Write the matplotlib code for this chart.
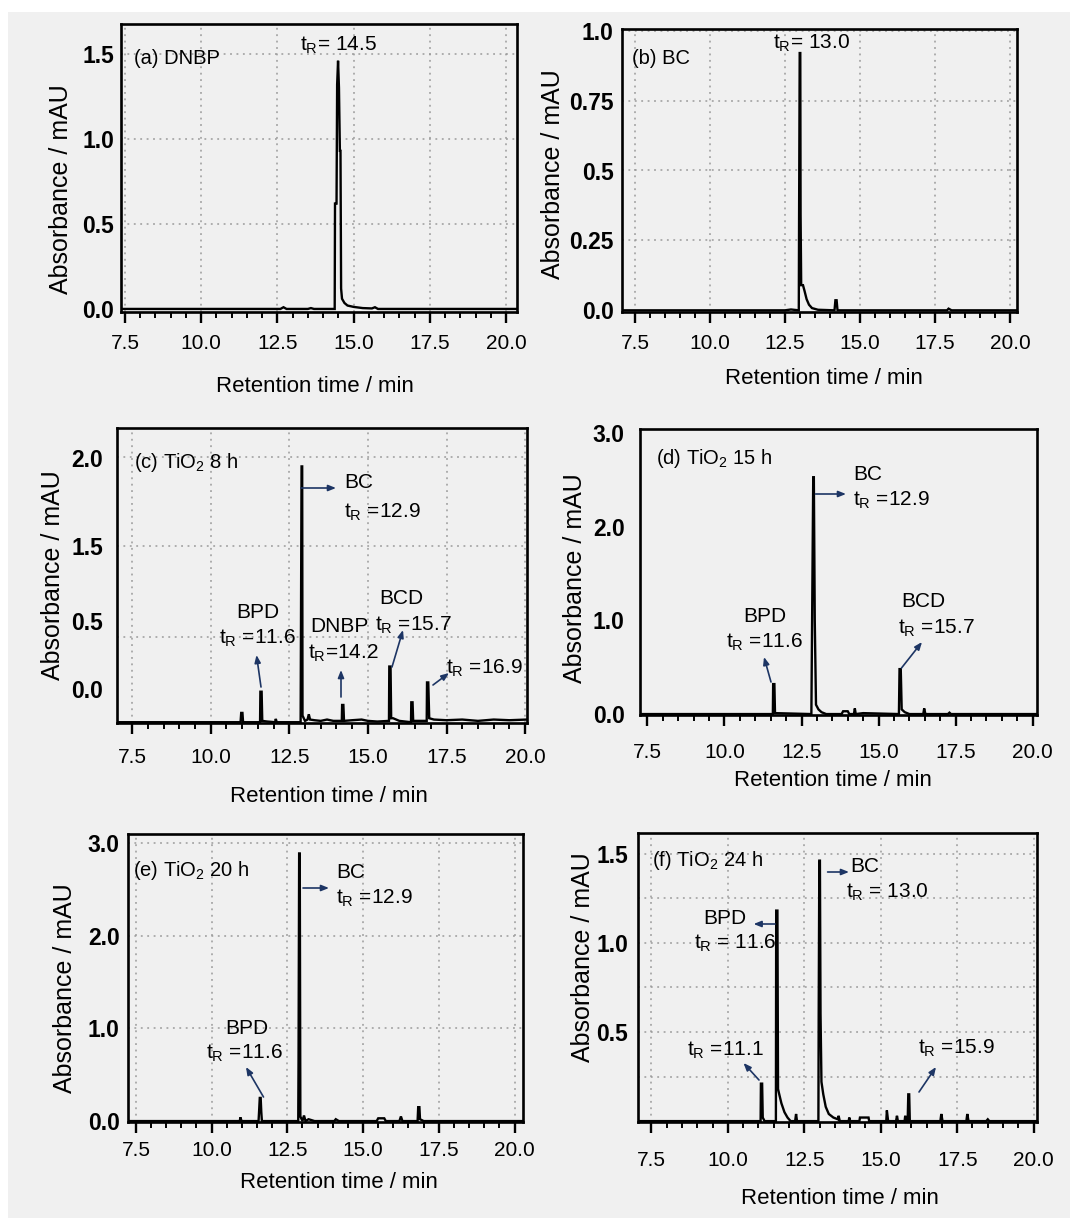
import matplotlib
matplotlib.use("Agg")
import matplotlib.pyplot as plt
from matplotlib.patches import Rectangle
from matplotlib.ticker import MultipleLocator

# ---------------------------------------------------------------- data
# (a) DNBP standard
t_dnbp = [7.37, 9.0, 11.0, 12.6, 12.7, 12.8, 13.5, 13.6, 13.7, 14.38, 14.39, 14.44, 14.46,
          14.49, 14.52, 14.55, 14.57, 14.59, 14.62, 14.70, 14.80, 15.0, 15.3, 15.6, 15.7,
          15.8, 18.0, 20.36]
a_dnbp = [0.0, 0.0, 0.0, 0.0, 0.01, 0.0, 0.0, 0.005, 0.0, 0.0, 0.62, 0.62, 1.32,
          1.46, 1.30, 0.93, 0.93, 0.12, 0.06, 0.035, 0.02, 0.012, 0.005, 0.003, 0.01,
          0.0, 0.0, 0.0]

# (b) BC standard
t_bc = [7.07, 9.5, 12.0, 12.5, 12.7, 12.96, 12.97, 12.99, 13.01, 13.02, 13.04, 13.10,
        13.15, 13.22, 13.30, 13.40, 13.6, 14.15, 14.18, 14.22, 14.25, 17.9, 17.95, 18.05,
        20.23]
a_bc = [0.0, 0.0, 0.0, 0.0, 0.003, 0.0, 0.34, 0.92, 0.92, 0.34, 0.09, 0.09,
        0.07, 0.04, 0.02, 0.008, 0.002, 0.0, 0.036, 0.036, 0.0, 0.0, 0.006, 0.0,
        0.0]

# (c) TiO2, 8 h
t_8h = [7.02, 9.0, 10.95, 10.97, 11.01, 11.03, 11.57, 11.58, 11.62, 11.64, 11.8, 12.05,
        12.07, 12.1, 12.86, 12.87, 12.89, 12.91, 12.92, 13.0, 13.08, 13.12, 13.16, 13.3,
        13.5, 13.7, 13.9, 14.17, 14.18, 14.22, 14.24, 14.5, 14.8, 15.0, 15.3, 15.67,
        15.68, 15.72, 15.74, 15.8, 15.9, 16.0, 16.37, 16.38, 16.42, 16.44, 16.87, 16.88,
        16.92, 16.95, 17.1, 17.5, 18.0, 18.5, 19.0, 19.5, 20.06]
a_8h = [0.0, 0.0, 0.0, 0.07, 0.07, 0.0, 0.0, 0.23, 0.23, 0.01, 0.005, 0.0,
        0.025, 0.0, 0.0, 0.65, 1.93, 1.93, 0.05, 0.01, 0.02, 0.06, 0.02, 0.015,
        0.01, 0.02, 0.01, 0.01, 0.13, 0.13, 0.01, 0.015, 0.02, 0.01, 0.005, 0.01,
        0.42, 0.42, 0.03, 0.03, 0.02, 0.01, 0.0, 0.15, 0.15, 0.01, 0.01, 0.30,
        0.30, 0.03, 0.02, 0.015, 0.02, 0.01, 0.02, 0.015, 0.02]

# (d) TiO2, 15 h
t_15h = [7.26, 11.0, 11.57, 11.58, 11.62, 11.64, 12.82, 12.88, 12.90, 12.93, 12.97, 13.05,
         13.15, 13.3, 13.8, 13.85, 14.0, 14.05, 14.2, 14.23, 14.26, 14.5, 15.66, 15.68,
         15.72, 15.75, 15.85, 16.0, 16.45, 16.48, 16.52, 17.25, 17.3, 17.35, 20.14]
a_15h = [0.0, 0.0, 0.0, 0.32, 0.32, 0.01, 0.0, 2.53, 2.53, 1.0, 0.1, 0.05,
         0.02, 0.0, 0.0, 0.03, 0.03, 0.0, 0.0, 0.06, 0.0, 0.01, 0.0, 0.48,
         0.48, 0.05, 0.02, 0.0, 0.0, 0.06, 0.0, 0.0, 0.015, 0.0, 0.0]

# (e) TiO2, 20 h
t_20h = [7.24, 10.93, 10.95, 10.99, 11.55, 11.57, 11.59, 11.62, 11.64, 11.66, 12.86, 12.87,
         12.89, 12.91, 12.93, 13.0, 13.05, 13.1, 13.2, 13.4, 14.05, 14.1, 14.2, 15.45,
         15.5, 15.7, 15.75, 16.2, 16.25, 16.3, 16.8, 16.82, 16.86, 16.88, 17.0, 20.28]
a_20h = [0.0, 0.0, 0.04, 0.0, 0.0, 0.12, 0.25, 0.25, 0.1, 0.0, 0.0, 0.65,
         2.89, 2.89, 0.05, 0.0, 0.06, 0.0, 0.02, 0.0, 0.0, 0.02, 0.0, 0.0,
         0.03, 0.03, 0.0, 0.0, 0.05, 0.0, 0.0, 0.15, 0.15, 0.02, 0.0, 0.0]

# (f) TiO2, 24 h
t_24h = [7.06, 10.5, 11.07, 11.08, 11.12, 11.14, 11.2, 11.57, 11.58, 11.62, 11.64, 11.68,
         11.75, 11.85, 11.95, 12.05, 12.2, 12.23, 12.26, 12.96, 12.97, 12.99, 13.01, 13.03,
         13.06, 13.12, 13.2, 13.3, 13.45, 13.6, 13.62, 13.66, 13.95, 13.97, 14.0, 14.3,
         14.32, 14.6, 14.62, 15.18, 15.2, 15.24, 15.5, 15.53, 15.56, 15.78, 15.8, 15.83,
         15.88, 15.9, 15.93, 15.95, 16.95, 16.98, 17.02, 17.8, 17.83, 17.87, 18.45, 18.5,
         18.55, 20.11]
a_24h = [0.0, 0.0, 0.0, 0.21, 0.21, 0.02, 0.0, 0.0, 1.18, 1.18, 0.18, 0.15,
         0.10, 0.05, 0.02, 0.0, 0.0, 0.04, 0.0, 0.0, 0.6, 1.46, 1.46, 0.6,
         0.22, 0.15, 0.08, 0.04, 0.02, 0.01, 0.03, 0.0, 0.0, 0.02, 0.0, 0.0,
         0.02, 0.02, 0.0, 0.0, 0.06, 0.0, 0.0, 0.03, 0.0, 0.0, 0.03, 0.0,
         0.0, 0.15, 0.15, 0.0, 0.0, 0.04, 0.0, 0.0, 0.04, 0.0, 0.0, 0.01,
         0.0, 0.0]

x_ticks = [7.5, 10.0, 12.5, 15.0, 17.5, 20.0]
x_tick_labels = ["7.5", "10.0", "12.5", "15.0", "17.5", "20.0"]

# ---------------------------------------------------------------- style
W, H = 1070, 1218
REG = ["Liberation Sans", "DejaVu Sans"]
plt.rcParams["font.family"] = REG
plt.rcParams["mathtext.fontset"] = "custom"
plt.rcParams["mathtext.rm"] = "Liberation Sans"

BG = "#f0f0f0"
ARROW_C = "#1d3564"
GRID_KW = dict(color="#9a9a9a", lw=1.1, ls=(0, (1.2, 3.0)), zorder=0)

fig = plt.figure(figsize=(W / 100, H / 100), dpi=100)
fig.patch.set_facecolor("white")
fig.add_artist(Rectangle((8 / W, 0), 1 - 8 / W, 1 - 12 / H, transform=fig.transFigure,
                         facecolor=BG, edgecolor="none", zorder=-10))


def P(x, y):
    """pixel position (from top-left) -> figure fraction"""
    return (x / W, 1 - y / H)


def TR(val):
    return r"$\mathregular{t_R}$" + val


panels = [
    dict(frame=(121, 24, 517, 312), t=t_dnbp, a=a_dnbp, xlim=(7.37, 20.36), ylim=(-0.018, 1.676),
         yticks=[0.0, 0.5, 1.0, 1.5], ylabels=["0.0", "0.5", "1.0", "1.5"],
         hgrid=[0.5, 1.0, 1.5], vgrid=True, xpad=7.5, ypad=5,
         ylab=(61, 189), xlab=(315, 387),
         title=("(a) DNBP", 134, 58),
         notes=[(TR("= 14.5"), 300, 45, "left")], arrows=[]),
    dict(frame=(622, 29, 1017, 312), t=t_bc, a=a_bc, xlim=(7.07, 20.23), ylim=(-0.006, 1.006),
         yticks=[0.0, 0.25, 0.5, 0.75, 1.0], ylabels=["0.0", "0.25", "0.5", "0.75", "1.0"],
         hgrid=[0.25, 0.5, 0.75, 1.0], vgrid=True, xpad=7.5, ypad=6,
         ylab=(553, 174), xlab=(824, 378),
         title=("(b) BC", 632, 58),
         notes=[(TR("= 13.0"), 773, 43, "left")], arrows=[]),
    dict(frame=(117, 428, 527, 723), t=t_8h, a=a_8h, xlim=(7.02, 20.06), ylim=(-0.006, 2.22),
         yticks=[0.25, 0.76, 1.33, 1.99], ylabels=["0.0", "0.5", "1.5", "2.0"],
         hgrid=[0.64, 1.33, 2.0], vgrid=True, xpad=10, ypad=10,
         ylab=(53, 575), xlab=(329, 797),
         title=(r"(c) $\mathregular{TiO_2}$ 8 h", 134, 462),
         notes=[("BC", 344, 483, "left"), (TR(" =12.9"), 344, 512, "left"),
                ("BPD", 258, 613, "center"), (TR(" =11.6"), 257, 638, "center"),
                ("DNBP", 339, 627, "center"), (TR("=14.2"), 343, 653, "center"),
                ("BCD", 401, 598, "center"), (TR(" =15.7"), 413, 625, "center"),
                (TR(" =16.9"), 446, 668, "left")],
         arrows=[((301, 488), (336, 488)), ((261, 687), (256.5, 655)),
                 ((341, 697), (341, 670)), ((392, 667), (403, 630)),
                 ((433, 685), (449, 673))]),
    dict(frame=(640, 429, 1037, 715), t=t_15h, a=a_15h, xlim=(7.26, 20.14), ylim=(-0.01, 3.045),
         yticks=[0.0, 1.0, 2.0, 3.0], ylabels=["0.0", "1.0", "2.0", "3.0"],
         hgrid=[], vgrid=False, xpad=12.5, ypad=11,
         ylab=(575, 578), xlab=(833, 781),
         title=(r"(d) $\mathregular{TiO_2}$ 15 h", 656, 458),
         notes=[("BC", 853, 475, "left"), (TR(" =12.9"), 853, 500, "left"),
                ("BPD", 765, 617, "center"), (TR(" =11.6"), 764, 642, "center"),
                ("BCD", 923, 602, "center"), (TR(" =15.7"), 936, 628, "center")],
         arrows=[((815.5, 494), (846, 494)), ((771, 682), (764, 657)),
                 ((901.5, 668), (922, 642))]),
    dict(frame=(128, 834, 523, 1122), t=t_20h, a=a_20h, xlim=(7.24, 20.28), ylim=(-0.01, 3.10),
         yticks=[0.0, 1.0, 2.0, 3.0], ylabels=["0.0", "1.0", "2.0", "3.0"],
         hgrid=[1.0, 2.0, 3.0], vgrid=True, xpad=6, ypad=6,
         ylab=(65, 988), xlab=(339, 1182),
         title=(r"(e) $\mathregular{TiO_2}$ 20 h", 133, 870),
         notes=[("BC", 336, 872, "left"), (TR(" =12.9"), 336, 898, "left"),
                ("BPD", 247, 1028, "center"), (TR(" =11.6"), 244.5, 1053, "center")],
         arrows=[((303, 888), (329, 888)), ((263.5, 1097), (246, 1067))]),
    dict(frame=(638, 833, 1037, 1122), t=t_24h, a=a_24h, xlim=(7.06, 20.11), ylim=(-0.005, 1.615),
         yticks=[0.5, 1.0, 1.5], ylabels=["0.5", "1.0", "1.5"],
         hgrid=[0.25, 0.5, 0.75, 1.0, 1.25, 1.5], vgrid=True, xpad=13, ypad=7,
         ylab=(583, 957), xlab=(840, 1198),
         title=(r"(f) $\mathregular{TiO_2}$ 24 h", 652, 860),
         notes=[("BC", 850, 867, "left"), (TR(" = 13.0"), 846.5, 892, "left"),
                ("BPD", 725, 918, "center"), (TR(" = 11.6"), 735, 943, "center"),
                (TR(" =11.1"), 725, 1050, "center"), (TR(" =15.9"), 956, 1048, "center")],
         arrows=[((827.6, 872), (849, 872)), ((775, 924), (753.6, 924)),
                 ((759, 1080), (743.5, 1063)), ((919, 1092), (936, 1067))]),
]

for p in panels:
    l, t, r, b = p["frame"]
    ax = fig.add_axes([l / W, 1 - b / H, (r - l) / W, (b - t) / H])
    ax.set_facecolor(BG)
    ax.plot(p["t"], p["a"], color="black", lw=1.7, solid_joinstyle="miter", zorder=3)
    ax.set_xlim(*p["xlim"])
    ax.set_ylim(*p["ylim"])

    for y in p["hgrid"]:
        ax.axhline(y, **GRID_KW)
    if p["vgrid"]:
        for x in x_ticks:
            ax.axvline(x, **GRID_KW)

    ax.set_xticks(x_ticks)
    ax.set_xticklabels(x_tick_labels, fontsize=15)
    ax.xaxis.set_minor_locator(MultipleLocator(0.5))
    ax.tick_params(axis="x", which="major", direction="out", length=8, width=1.7,
                   pad=p["xpad"], colors="black")
    ax.tick_params(axis="x", which="minor", direction="out", length=4.5, width=1.4)
    ax.set_yticks(p["yticks"])
    ax.set_yticklabels(p["ylabels"], fontsize=16.5, fontweight="bold")
    ax.tick_params(axis="y", which="both", length=0, pad=p["ypad"])
    for s in ax.spines.values():
        s.set_linewidth(1.9)
        s.set_color("black")

    fig.text(*P(*p["ylab"]), "Absorbance / mAU", rotation=90, ha="center", va="center",
             fontsize=18, rotation_mode="anchor")
    fig.text(*P(*p["xlab"]), "Retention time / min", ha="center", va="center", fontsize=16)

    txt, tx, ty = p["title"]
    fig.text(*P(tx, ty), txt, ha="left", va="center", fontsize=14.5)
    for s, nx, ny, ha in p["notes"]:
        fig.text(*P(nx, ny), s, ha=ha, va="center", fontsize=15)
    for (x0, y0), (x1, y1) in p["arrows"]:
        ax.annotate("", xy=P(x1, y1), xycoords="figure fraction",
                    xytext=P(x0, y0), textcoords="figure fraction",
                    arrowprops=dict(arrowstyle="-|>,head_length=0.45,head_width=0.18",
                                    color=ARROW_C, lw=1.2, shrinkA=0, shrinkB=0))

fig.savefig("out.png", dpi=100, facecolor=fig.get_facecolor())
